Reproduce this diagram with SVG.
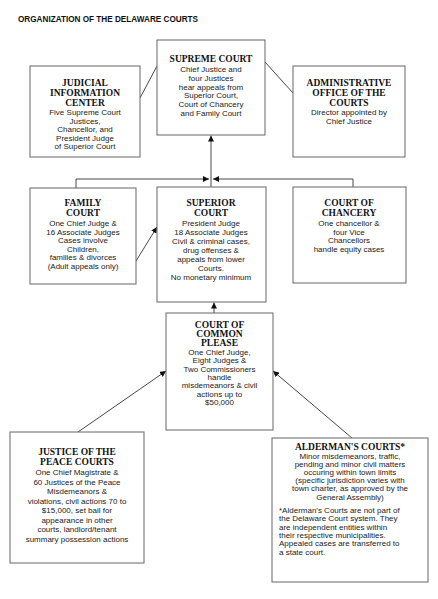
<svg xmlns="http://www.w3.org/2000/svg" width="438" height="599" viewBox="0 0 438 599">
<style>
.box{fill:#fff;stroke:#666;stroke-width:1}
.h{font-family:"Liberation Serif",serif;font-weight:bold;font-size:9.5px;text-anchor:middle;fill:#111}
.t{font-family:"Liberation Sans",Arial,sans-serif;font-size:8px;text-anchor:middle;fill:#222}
.fn{font-family:"Liberation Sans",Arial,sans-serif;font-size:8px;fill:#222}
.c{stroke:#333;stroke-width:0.9;fill:none}
</style>
<defs>
<marker id="ah" viewBox="0 0 10 10" refX="10" refY="5" markerWidth="6" markerHeight="6" orient="auto" markerUnits="userSpaceOnUse">
<path d="M0,0 L10,5 L0,10 z" fill="#111"/>
</marker>
</defs>
<rect width="438" height="599" fill="#fff"/>
<text x="18" y="22" font-family="Liberation Sans,Arial,sans-serif" font-weight="bold" font-size="8.5" textLength="180" lengthAdjust="spacingAndGlyphs" fill="#111">ORGANIZATION OF THE DELAWARE COURTS</text>

<g id="connectors">
<line class="c" x1="211" y1="187" x2="211" y2="135.5" marker-end="url(#ah)"/>
<polyline class="c" points="76,188 76,179 209,179" marker-end="url(#ah)"/>
<polyline class="c" points="353,187 353,179 213,179" marker-end="url(#ah)"/>
<line class="c" x1="140" y1="98" x2="157" y2="66"/>
<line class="c" x1="265" y1="62" x2="293" y2="93"/>
<line class="c" x1="136" y1="261" x2="157" y2="227" marker-end="url(#ah)"/>
<line class="c" x1="214" y1="313" x2="214" y2="302.5" marker-end="url(#ah)"/>
<line class="c" x1="78" y1="432" x2="166" y2="371" marker-end="url(#ah)"/>
<line class="c" x1="352" y1="438" x2="273" y2="371" marker-end="url(#ah)"/>
</g>

<g id="supreme">
<rect class="box" x="157" y="40" width="108" height="95"/>
<text class="h" x="211" y="62">SUPREME COURT</text>
<text class="t" x="211" y="72">Chief Justice and</text>
<text class="t" x="211" y="80.8">four Justices</text>
<text class="t" x="211" y="89.6">hear appeals from</text>
<text class="t" x="211" y="98.4">Superior Court,</text>
<text class="t" x="211" y="107.2">Court of Chancery</text>
<text class="t" x="211" y="116">and Family Court</text>
</g>

<g id="jic">
<rect class="box" x="30" y="66" width="110" height="91"/>
<text class="h" x="85" y="86">JUDICIAL</text>
<text class="h" x="85" y="96">INFORMATION</text>
<text class="h" x="85" y="106">CENTER</text>
<text class="t" x="85" y="115">Five Supreme Court</text>
<text class="t" x="85" y="123.5">Justices,</text>
<text class="t" x="85" y="132">Chancellor, and</text>
<text class="t" x="85" y="140.5">President Judge</text>
<text class="t" x="85" y="149">of Superior Court</text>
</g>

<g id="aoc">
<rect class="box" x="293" y="66" width="112" height="91"/>
<text class="h" x="349" y="86">ADMINISTRATIVE</text>
<text class="h" x="349" y="96">OFFICE OF THE</text>
<text class="h" x="349" y="106">COURTS</text>
<text class="t" x="349" y="115">Director appointed by</text>
<text class="t" x="349" y="123.5">Chief Justice</text>
</g>

<g id="family">
<rect class="box" x="30" y="188" width="106" height="96"/>
<text class="h" x="83" y="206">FAMILY</text>
<text class="h" x="83" y="216">COURT</text>
<text class="t" x="83" y="226">One Chief Judge &amp;</text>
<text class="t" x="83" y="234.5">16 Associate Judges</text>
<text class="t" x="83" y="243">Cases involve</text>
<text class="t" x="83" y="251.5">Children,</text>
<text class="t" x="83" y="260">families &amp; divorces</text>
<text class="t" x="83" y="268.5">(Adult appeals only)</text>
</g>

<g id="superior">
<rect class="box" x="157" y="187" width="109" height="115"/>
<text class="h" x="211" y="206">SUPERIOR</text>
<text class="h" x="211" y="216">COURT</text>
<text class="t" x="211" y="226">President Judge</text>
<text class="t" x="211" y="235">18 Associate Judges</text>
<text class="t" x="211" y="244">Civil &amp; criminal cases,</text>
<text class="t" x="211" y="253">drug offenses &amp;</text>
<text class="t" x="211" y="262">appeals from lower</text>
<text class="t" x="211" y="270.5">Courts.</text>
<text class="t" x="211" y="280">No monetary minimum</text>
</g>

<g id="chancery">
<rect class="box" x="293" y="187" width="113" height="96"/>
<text class="h" x="349" y="206">COURT OF</text>
<text class="h" x="349" y="216">CHANCERY</text>
<text class="t" x="349" y="226">One chancellor &amp;</text>
<text class="t" x="349" y="234.5">four Vice</text>
<text class="t" x="349" y="243">Chancellors</text>
<text class="t" x="349" y="251.5">handle equity cases</text>
</g>

<g id="ccp">
<rect class="box" x="166" y="313" width="107" height="117"/>
<text class="h" x="219.5" y="328">COURT OF</text>
<text class="h" x="219.5" y="337">COMMON</text>
<text class="h" x="219.5" y="346">PLEASE</text>
<text class="t" x="219.5" y="355">One Chief Judge,</text>
<text class="t" x="219.5" y="363.3">Eight Judges &amp;</text>
<text class="t" x="219.5" y="371.6">Two Commissioners</text>
<text class="t" x="219.5" y="379.9">handle</text>
<text class="t" x="219.5" y="388.2">misdemeanors &amp; civil</text>
<text class="t" x="219.5" y="396.5">actions up to</text>
<text class="t" x="219.5" y="404.8">$50,000</text>
</g>

<g id="jp">
<rect class="box" x="10" y="432" width="134" height="131"/>
<text class="h" x="77" y="455">JUSTICE OF THE</text>
<text class="h" x="77" y="465">PEACE COURTS</text>
<text class="t" x="77" y="475">One Chief Magistrate &amp;</text>
<text class="t" x="77" y="484.5">60 Justices of the Peace</text>
<text class="t" x="77" y="494">Misdemeanors &amp;</text>
<text class="t" x="77" y="503.5">violations, civil actions 70 to</text>
<text class="t" x="77" y="513">$15,000, set bail for</text>
<text class="t" x="77" y="522.5">appearance in other</text>
<text class="t" x="77" y="532">courts, landlord/tenant</text>
<text class="t" x="77" y="541.5">summary possession actions</text>
</g>

<g id="alderman">
<rect class="box" x="272" y="438" width="156" height="144"/>
<text class="h" x="350" y="450">ALDERMAN'S COURTS*</text>
<text class="t" x="350" y="458.5">Minor misdemeanors, traffic,</text>
<text class="t" x="350" y="466.7">pending and minor civil matters</text>
<text class="t" x="350" y="474.9">occuring within town limits</text>
<text class="t" x="350" y="483.1">(specific jurisdiction varies with</text>
<text class="t" x="350" y="491.3">town charter, as approved by the</text>
<text class="t" x="350" y="499.5">General Assembly)</text>
<text class="fn" x="279" y="513">*Alderman's Courts are not part of</text>
<text class="fn" x="279" y="521.3">the Delaware Court system.  They</text>
<text class="fn" x="279" y="529.6">are independent entities within</text>
<text class="fn" x="279" y="537.9">their respective municipalities.</text>
<text class="fn" x="279" y="546.2">Appealed cases are transferred to</text>
<text class="fn" x="279" y="554.5">a state court.</text>
</g>
</svg>
